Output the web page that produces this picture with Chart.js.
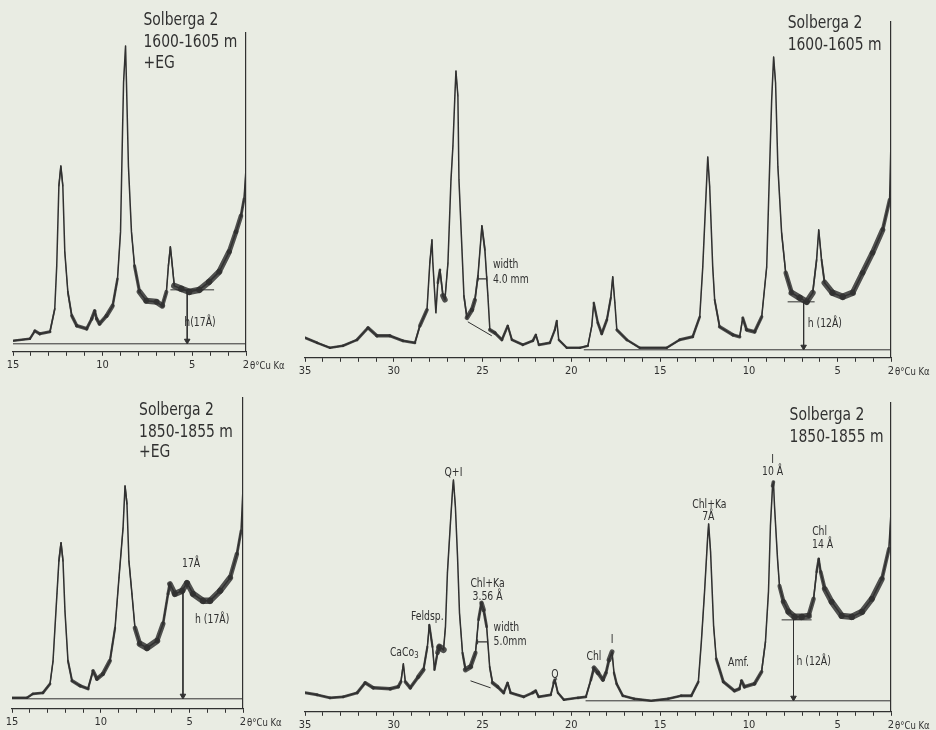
<!DOCTYPE html>
<html>
<head>
<meta charset="utf-8">
<script src="https://cdn.jsdelivr.net/npm/chart.js@4.4.0/dist/chart.umd.min.js"></script>
<style>
  html, body { margin: 0; padding: 0; width: 936px; height: 730px; overflow: hidden; background: #e9ece3; }
  canvas { position: absolute; }
</style>
</head>
<body>
<canvas id="tl" width="300" height="380" style="left:0;top:0"></canvas>
<canvas id="tr" width="646" height="385" style="left:290px;top:0"></canvas>
<canvas id="bl" width="290" height="360" style="left:0;top:375px"></canvas>
<canvas id="br" width="646" height="362" style="left:290px;top:375px"></canvas>
<script>
// Solberga 2, 1600-1605 m, glycolated (+EG), 2 theta CuKa vs intensity (mm above axis)
const tlTheta = [15.0,14.06,13.78,13.5,12.94,12.67,12.56,12.44,12.33,12.22,12.11,11.94,11.72,11.44,10.89,10.61,10.44,10.33,10.17,9.78,
  9.44,9.17,9.0,8.89,8.83,8.72,8.67,8.56,8.39,8.22,7.94,7.56,7.0,6.67,6.44,6.33,6.22,6.11,6.0,5.61,
  5.17,4.61,4.06,3.5,2.94,2.56,2.28,2.11,2.0];
const tlCounts = [11,13,21,18,20,43,86,166,186,166,100,60,36,26,23,33,41,33,28,36,
  46,73,120,220,270,306,270,186,120,86,60,51,50,46,60,86,105,86,66,63,
  60,62,70,80,100,120,136,153,183];

// Solberga 2, 1600-1605 m, untreated
const trTheta = [35.0,34.32,33.59,32.86,32.07,31.45,30.95,30.22,29.48,28.81,28.53,28.13,27.97,27.85,27.80,27.63,27.52,27.40,27.23,27.12,
  26.95,26.78,26.67,26.56,26.50,26.39,26.33,26.16,26.05,25.88,25.60,25.43,25.26,25.10,25.04,24.87,24.70,24.59,24.31,23.91,
  23.58,23.35,22.73,22.17,22.00,21.83,21.21,20.93,20.82,20.71,20.26,19.52,19.07,18.85,18.74,18.51,18.29,18.0,17.78,17.67,
  17.55,17.44,16.88,16.15,14.63,13.90,13.17,12.77,12.60,12.43,12.32,12.21,12.04,11.93,11.65,10.91,10.52,10.35,10.13,9.68,
  9.28,9.00,8.89,8.72,8.61,8.50,8.37,8.16,7.93,7.59,7.14,6.75,6.41,6.19,6.07,5.91,5.74,5.29,4.72,4.16,
  3.60,3.04,2.47,2.08,2.0];
const trCounts = [20,15,10,12,18,30,22,22,17,15,32,48,95,118,95,45,75,88,62,58,
  95,178,212,262,287,262,178,108,62,40,48,58,82,118,132,108,62,28,25,18,
  32,18,13,17,23,13,15,28,37,18,10,10,12,32,55,35,24,38,60,81,
  55,28,18,10,10,18,21,41,91,158,201,171,91,58,31,23,21,40,28,26,
  41,91,158,258,301,275,191,125,85,65,60,56,65,98,128,98,75,65,61,65,
  85,105,128,158,218];

// Solberga 2, 1850-1855 m, glycolated (+EG)
const blTheta = [15.0,14.16,13.82,13.26,12.86,12.69,12.47,12.36,12.24,12.13,12.02,11.85,11.62,11.17,10.72,10.44,10.22,9.88,9.49,9.20,
  8.98,8.75,8.64,8.53,8.42,8.25,8.08,7.80,7.40,6.84,6.50,6.22,6.11,5.83,5.43,5.15,4.81,4.25,3.86,3.29,
  2.73,2.34,2.11,2.0];
const blCounts = [11,11,15,16,25,48,115,148,166,148,98,48,28,23,20,38,30,35,48,81,
  131,181,223,205,148,115,81,65,61,68,85,115,125,115,118,126,115,108,108,118,
  131,155,178,221];

// Solberga 2, 1850-1855 m, untreated
const brTheta = [35.0,34.32,33.59,32.85,32.06,31.61,31.16,30.20,29.75,29.6,29.46,29.35,29.07,28.62,28.33,28.11,28.0,27.82,27.71,27.54,
  27.43,27.20,27.09,26.98,26.81,26.69,26.64,26.53,26.41,26.30,26.13,25.96,25.68,25.40,25.23,25.06,24.94,24.77,24.60,24.44,
  24.15,23.81,23.59,23.42,22.68,22.18,22.01,21.84,21.16,20.99,20.93,20.76,20.42,19.63,19.18,18.90,18.73,18.50,18.22,18.05,
  17.88,17.71,17.60,17.45,17.1,16.47,15.51,14.55,13.81,13.25,12.85,12.68,12.50,12.33,12.27,12.16,11.99,11.84,11.44,10.82,
  10.54,10.42,10.25,9.69,9.29,9.07,8.90,8.79,8.67,8.62,8.56,8.39,8.28,8.05,7.77,7.43,7.03,6.64,6.36,6.19,
  6.07,5.96,5.73,5.34,4.77,4.21,3.64,3.08,2.51,2.12,2.0];
const brCounts = [19,17,14,15,19,29,24,23,25,30,48,30,24,35,42,65,87,65,42,59,
  65,62,85,139,189,222,232,205,155,99,59,42,45,59,92,109,102,85,45,29,
  25,19,29,19,15,19,21,15,17,29,32,19,12,14,15,32,44,39,32,39,
  52,60,39,28,16,13,11,13,16,16,30,70,120,173,188,160,86,53,30,21,
  23,31,25,28,40,70,120,186,226,230,206,153,126,110,100,95,95,96,113,140,
  153,140,123,110,96,95,100,113,133,163,200];

// tick labels on the 2 theta axes
const shortTicks = [15, 10, 5, 2];
const longTicks = [35, 30, 25, 20, 15, 10, 5, 2];
const axisUnit = 'θ°Cu Kα';

// measuring marks, [2theta, level]
const tlBase = [[15, 8], [2, 8]];
const tlMark = [[6.22, 62], [3.78, 62]];
const tlArrow = [[5.28, 62], [5.28, 11]];

const trBase = [[19.3, 8], [2, 8]];
const trMark = [[7.82, 56], [6.30, 56]];
const trArrow = [[6.92, 56], [6.92, 11]];
const trSlant = [[25.83, 36], [24.48, 22]];
const trWidth = [[25.26, 79], [24.76, 79]];

const blBase = [[15, 10], [2, 10]];
const blArrow = [[5.38, 119], [5.38, 13]];

const brBase = [[19.2, 11], [2, 11]];
const brMark = [[8.16, 92], [6.47, 92]];
const brArrow = [[7.49, 92], [7.49, 14]];
const brSlant = [[25.68, 31], [24.55, 24]];
const brWidth = [[25.28, 70], [24.72, 70]];

// labels: text, 2theta, level
const tlNotes = [
  { text: 'Solberga 2', theta: 7.72, level: 332, size: 18 },
  { text: '1600-1605 m', theta: 7.72, level: 310, size: 18 },
  { text: '+EG', theta: 7.72, level: 289, size: 18 },
  { text: 'h(17Å)', theta: 5.44, level: 29 }
];
const trNotes = [
  { text: 'Solberga 2', theta: 7.82, level: 335, size: 18 },
  { text: '1600-1605 m', theta: 7.82, level: 313, size: 18 },
  { text: 'width', theta: 24.42, level: 93 },
  { text: '4.0 mm', theta: 24.42, level: 78 },
  { text: 'h (12Å)', theta: 6.69, level: 34 }
];
const blNotes = [
  { text: 'Solberga 2', theta: 7.85, level: 299, size: 18 },
  { text: '1850-1855 m', theta: 7.85, level: 277, size: 18 },
  { text: '+EG', theta: 7.85, level: 257, size: 18 },
  { text: '17Å', theta: 5.43, level: 145 },
  { text: 'h (17Å)', theta: 4.70, level: 89 }
];
const brNotes = [
  { text: 'Solberga 2', theta: 7.71, level: 297, size: 18 },
  { text: '1850-1855 m', theta: 7.71, level: 275, size: 18 },
  { text: 'Q+I', theta: 26.64, level: 239, align: 'center' },
  { text: 'Chl+Ka', theta: 24.72, level: 128, align: 'center' },
  { text: '3.56 Å', theta: 24.72, level: 115, align: 'center' },
  { text: 'Feldsp.', theta: 28.11, level: 95, align: 'center' },
  { text: 'CaCo', sub: '3', theta: 29.41, level: 59, align: 'center' },
  { text: 'width', theta: 24.38, level: 84 },
  { text: '5.0mm', theta: 24.38, level: 70 },
  { text: 'Q', theta: 20.93, level: 37, align: 'center' },
  { text: 'Chl', theta: 18.73, level: 55, align: 'center' },
  { text: 'I', theta: 17.71, level: 72, align: 'center' },
  { text: 'Chl+Ka', theta: 12.23, level: 207, align: 'center' },
  { text: '7Å', theta: 12.29, level: 195, align: 'center' },
  { text: 'Amf.', theta: 10.59, level: 49, align: 'center' },
  { text: 'I', theta: 8.67, level: 252, align: 'center' },
  { text: '10 Å', theta: 8.67, level: 240, align: 'center' },
  { text: 'Chl', theta: 6.02, level: 180, align: 'center' },
  { text: '14 Å', theta: 5.85, level: 167, align: 'center' },
  { text: 'h (12Å)', theta: 7.32, level: 50 }
];

const FONT = '"Liberation Sans Narrow", "Arial Narrow", "DejaVu Sans Condensed", sans-serif';
const INK = '#313131';
const NOISE = 'rgba(45, 45, 45, 0.82)';
const NARROW = 0.86; // lettering on the original is narrower than the fonts we have

Chart.defaults.font.family = FONT;
Chart.defaults.color = INK;

const toPoints = (xs, ys) => xs.map((x, i) => ({ x: x, y: ys[i] }));
const pairs = arr => arr.map(p => ({ x: p[0], y: p[1] }));

// the recorder noise shows as a dark band on flat stretches, nearly nothing on steep flanks
function noiseWidth(ctx) {
  const a = ctx.p0, b = ctx.p1;
  const dx = Math.abs(b.x - a.x) || 0.1;
  const slope = Math.abs(b.y - a.y) / dx;
  const level = ctx.chart.scales.y.getValueForPixel(Math.max(a.y, b.y));
  const w = 1.5 + Math.min(level / 11, 5);
  return w / (1 + 0.04 * slope * slope);
}

const notesPlugin = {
  id: 'notes',
  afterDraw(chart, args, opts) {
    const { ctx, chartArea } = chart;
    const x = chart.scales.x, y = chart.scales.y;
    ctx.save();
    ctx.fillStyle = INK;
    ctx.textBaseline = 'middle';
    for (const n of opts.items) {
      const size = n.size || 12;
      const px = x.getPixelForValue(n.theta);
      const py = y.getPixelForValue(n.level);
      ctx.save();
      ctx.translate(px, py);
      ctx.scale(NARROW, 1);
      ctx.font = size + 'px ' + FONT;
      if (n.sub) {
        const w1 = ctx.measureText(n.text).width;
        ctx.font = (size - 3) + 'px ' + FONT;
        const w2 = ctx.measureText(n.sub).width;
        const x0 = n.align === 'center' ? -(w1 + w2) / 2 : 0;
        ctx.textAlign = 'left';
        ctx.fillText(n.sub, x0 + w1, 3);
        ctx.font = size + 'px ' + FONT;
        ctx.fillText(n.text, x0, 0);
      } else {
        ctx.textAlign = n.align || 'left';
        ctx.fillText(n.text, 0, 0);
      }
      ctx.restore();
    }
    // unit after the last tick label
    ctx.save();
    ctx.translate(x.getPixelForValue(2) + 4, chartArea.bottom + 14);
    ctx.scale(NARROW, 1);
    ctx.font = '11px ' + FONT;
    ctx.textAlign = 'left';
    ctx.fillText(axisUnit, 0, 0);
    ctx.restore();
    ctx.restore();
  }
};

function panel(id, cfg) {
  const trace = toPoints(cfg.theta, cfg.counts);
  const datasets = [{
    data: trace,
    borderColor: INK,
    borderWidth: 1.5,
    borderJoinStyle: 'round',
    pointRadius: 0
  }, {
    data: trace,
    borderColor: NOISE,
    borderWidth: 2,
    borderCapStyle: 'round',
    borderJoinStyle: 'round',
    pointRadius: 0,
    segment: { borderWidth: noiseWidth }
  }];
  for (const line of cfg.lines) {
    datasets.push({ data: pairs(line), borderColor: INK, borderWidth: 1, pointRadius: 0 });
  }
  for (const arrow of cfg.arrows) {
    datasets.push({
      data: pairs(arrow), borderColor: INK, borderWidth: 1,
      pointRadius: [0, 3.2], pointStyle: 'triangle', rotation: 180,
      pointBackgroundColor: INK, pointBorderColor: INK
    });
  }
  for (const w of cfg.widths) {
    datasets.push({
      data: pairs(w), borderColor: INK, borderWidth: 1.2,
      pointRadius: 2.5, pointStyle: 'line', rotation: 90,
      pointBorderColor: INK, pointBorderWidth: 1
    });
  }
  return new Chart(document.getElementById(id), {
    type: 'line',
    data: { datasets: datasets },
    options: {
      responsive: false,
      animation: false,
      devicePixelRatio: 1,
      layout: { padding: cfg.padding },
      plugins: { legend: { display: false }, tooltip: { enabled: false }, notes: { items: cfg.notes } },
      scales: {
        x: {
          type: 'linear', reverse: true, min: 2, max: cfg.max,
          border: { display: true, color: INK, width: 1.2 },
          grid: { display: true, drawOnChartArea: false, drawTicks: true, tickLength: 4, color: INK, lineWidth: 1 },
          ticks: {
            stepSize: 1, autoSkip: false, maxRotation: 0, padding: 3,
            font: { size: 11 }, color: INK,
            callback: v => cfg.ticks.includes(v) ? String(v) : ''
          }
        },
        y: {
          type: 'linear', position: 'right', min: 0, max: cfg.top,
          border: { display: true, color: INK, width: 1.2 },
          grid: { display: false, drawTicks: false },
          ticks: { display: false }
        }
      }
    },
    plugins: [notesPlugin]
  });
}

panel('tl', {
  theta: tlTheta, counts: tlCounts, max: 15, top: 319, ticks: shortTicks,
  padding: { left: 13, right: 54, top: 33, bottom: 5 },
  lines: [tlBase, tlMark], arrows: [tlArrow], widths: [], notes: tlNotes
});
panel('tr', {
  theta: trTheta, counts: trCounts, max: 35, top: 336, ticks: longTicks,
  padding: { left: 15, right: 45, top: 22, bottom: 4 },
  lines: [trBase, trMark, trSlant], arrows: [trArrow], widths: [trWidth], notes: trNotes
});
panel('bl', {
  theta: blTheta, counts: blCounts, max: 15, top: 311, ticks: shortTicks,
  padding: { left: 12, right: 47, top: 23, bottom: 3 },
  lines: [blBase], arrows: [blArrow], widths: [], notes: blNotes
});
panel('br', {
  theta: brTheta, counts: brCounts, max: 35, top: 309, ticks: longTicks,
  padding: { left: 15, right: 45, top: 28, bottom: 2 },
  lines: [brBase, brMark, brSlant], arrows: [brArrow], widths: [brWidth], notes: brNotes
});
</script>
</body>
</html>
